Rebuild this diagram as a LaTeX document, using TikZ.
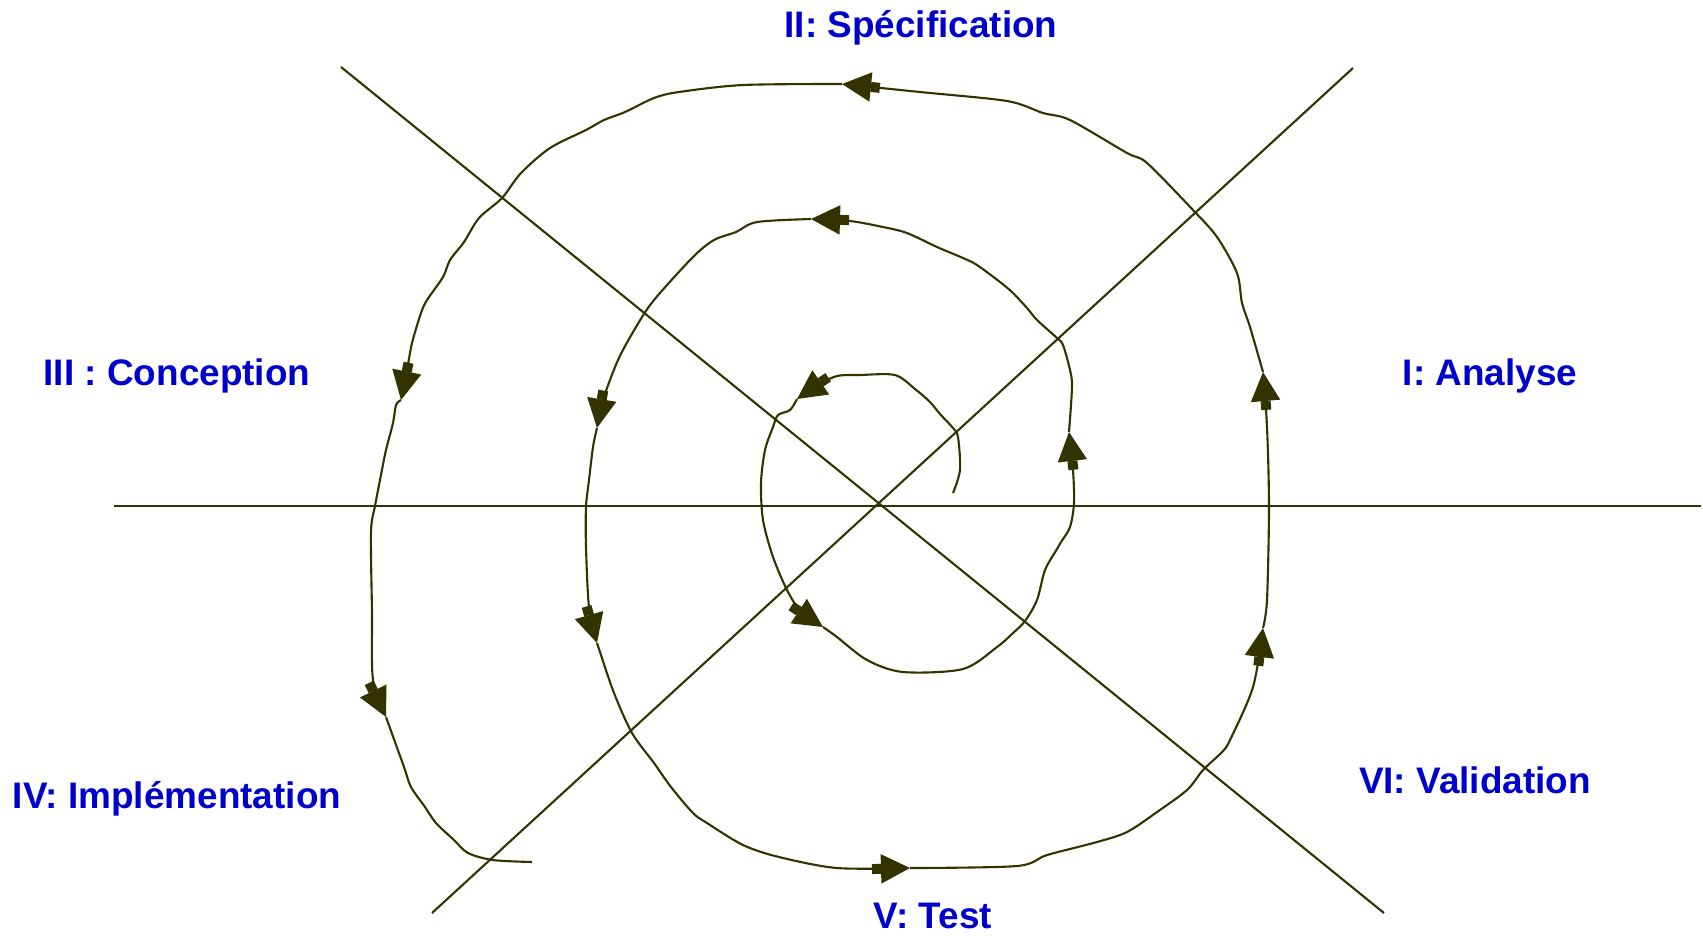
\documentclass[tikz,border=0pt]{standalone}
\usepackage{fontspec}
\setmainfont{Liberation Sans}
\usetikzlibrary{arrows.meta}
\definecolor{ink}{HTML}{333300}
\definecolor{lab}{HTML}{0000CC}
\begin{document}
\begin{tikzpicture}[x=0.01cm,y=-0.01cm,
  axis/.style={draw=ink,line width=0.6pt},
  free/.style={draw=ink,line width=0.6pt,line join=round},
  spir/.style={free,-{Rectangle[length=0.09cm,width=0.1cm,sep=0pt]Triangle[length=0.29cm,width=0.29cm,sep=0pt]}},
  lbl/.style={text=lab,font=\fontsize{10.5}{12}\selectfont\bfseries,anchor=base,inner sep=0pt}]
\useasboundingbox (0,0) rectangle (1703,935);
% axes
\coordinate (hL) at (114,506); \coordinate (hR) at (1701,506);
\coordinate (d1a) at (341,67); \coordinate (d1b) at (1384,913);
\coordinate (d2a) at (432,913); \coordinate (d2b) at (1353,68);
\draw[axis] (hL) -- (hR);
\draw[axis] (d1a) -- (d1b);
\draw[axis] (d2a) -- (d2b);
% spiral
\draw[spir] plot[smooth,tension=0.5] coordinates {(953,493) (960,470) (958,437) (953,428) (940,414) (930,402) (915,389) (895,375) (860,375) (837,376) (818,385) (797,399)};
\draw[spir] plot[smooth,tension=0.5] coordinates {(797,399) (790,410) (778,415) (773,427) (765,450) (761,483) (763,520) (773,557) (787,590) (800,610) (823,627)};
\draw[spir] plot[smooth,tension=0.5] coordinates {(823,627) (837,637) (867,660) (903,672) (963,669) (997,647) (1013,633) (1025,621) (1037,600) (1045,570) (1057,549) (1061,542) (1070,527) (1074,503) (1073,470) (1069,432)};
\draw[spir] plot[smooth,tension=0.5] coordinates {(1069,432) (1072,387) (1070,370) (1063,345) (1057,338) (1037,320) (1027,308) (1013,293) (1000,282) (977,265) (963,258) (937,247) (907,233) (883,227) (850,221) (811,219)};
\draw[spir] plot[smooth,tension=0.5] coordinates {(811,219) (757,222) (736,232) (714,240) (693,257) (654,300) (636,327) (618,360) (603,400) (597,428)};
\draw[spir] plot[smooth,tension=0.5] coordinates {(597,428) (593,447) (589,480) (586,507) (586,547) (589,607) (597,643)};
\draw[spir] plot[smooth,tension=0.5] coordinates {(597,643) (600,652) (614,693) (632,733) (654,763) (671,787) (693,813) (707,823) (743,845) (779,857) (837,868) (910,868)};
\draw[spir] plot[smooth,tension=0.5] coordinates {(910,868) (1017,866) (1047,855) (1097,842) (1127,832) (1157,812) (1187,790) (1203,770) (1222,752) (1230,740) (1253,687) (1263,628)};
\draw[spir] plot[smooth,tension=0.5] coordinates {(1263,628) (1267,600) (1269,507) (1267,427) (1263,372)};
\draw[spir] plot[smooth,tension=0.5] coordinates {(1263,372) (1250,327) (1242,303) (1237,273) (1217,237) (1193,210) (1147,163) (1127,153) (1070,120) (1043,113) (1007,101) (920,92) (842,84)};
\draw[spir] plot[smooth,tension=0.5] coordinates {(842,84) (743,85) (679,92) (654,98) (625,112) (604,120) (586,130) (550,148) (521,173) (502,198) (479,218) (464,242) (450,260) (443,277) (427,300) (421,313) (412,343) (407,370) (401,400)};
\draw[spir] plot[smooth,tension=0.5] coordinates {(401,400) (396,405) (393,423) (386,450) (380,480) (375,506) (371,532) (372,613) (373,680) (386,717)};
\draw[free] plot[smooth,tension=0.5] coordinates {(386,717) (404,767) (411,787) (425,807) (436,823) (454,840) (468,853) (493,860) (532,862)};
% labels
\node[lbl] (spec) at (921,37) {II: Spécification};
\node[lbl] (conc) at (177,385) {III : Conception};
\node[lbl] (anal) at (1490,385) {I: Analyse};
\node[lbl] (impl) at (177,808) {IV: Implémentation};
\node[lbl] (test) at (933,928) {V: Test};
\node[lbl] (vali) at (1475,793) {VI: Validation};
\end{tikzpicture}
\end{document}
